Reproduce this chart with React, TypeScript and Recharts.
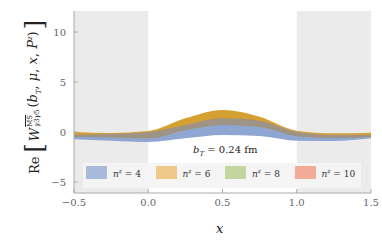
import React from "react";
import { ComposedChart, Area, XAxis, YAxis, ReferenceArea } from "recharts";

const xs = [-0.5, -0.25, 0, 0.25, 0.5, 0.75, 1.0, 1.25, 1.5];
const n4Low = [-0.73, -0.87, -1.0, -0.63, -0.3, -0.4, -0.87, -0.9, -0.63];
const n4High = [-0.27, -0.2, -0.03, 0.7, 1.37, 1.13, 0.0, -0.3, -0.3];
const n6Low = [-0.47, -0.53, -0.63, 0.2, 0.7, 0.53, -0.4, -0.6, -0.47];
const n6High = [0.0, -0.1, 0.1, 1.37, 2.2, 1.53, 0.13, -0.13, -0.07];
const n8Low = [-0.47, -0.53, -0.63, 0.2, 0.7, 0.53, -0.4, -0.6, -0.47];
const n8High = [-0.27, -0.2, -0.03, 0.7, 1.37, 1.13, 0.0, -0.3, -0.3];
const n10Low = [-0.42, -0.5, -0.58, 0.25, 0.75, 0.58, -0.35, -0.55, -0.42];
const n10High = [-0.25, -0.18, 0.0, 0.72, 1.38, 1.15, 0.05, -0.2, -0.25];

const xTicks = [-0.5, 0, 0.5, 1.0, 1.5];
const yTicks = [-5, 0, 5, 10];
const legendLabels = ["4", "6", "8", "10"];
const legendColors = ["#a9b9d9", "#efc98b", "#c3d69e", "#f1ab96"];

const data = xs.map((x, i) => ({
  x,
  n4: [n4Low[i], n4High[i]],
  n6: [n6Low[i], n6High[i]],
  n8: [n8Low[i], n8High[i]],
  n10: [n10Low[i], n10High[i]],
}));

const serif = "DejaVu Serif";
const fmt = (v: number) => (v < 0 ? "\u2212" + Math.abs(v).toFixed(1) : v.toFixed(1));
const fmtY = (v: number) => (v < 0 ? "\u2212" + Math.abs(v) : String(v));

export default function App() {
  return (
    <div style={{ position: "absolute", left: 0, top: 0, width: 382, height: 243, background: "#fff", fontFamily: serif }}>
      <ComposedChart width={382} height={243} data={data} margin={{ top: 11, right: 11, bottom: 20, left: 0 }}>
        <ReferenceArea x1={-0.5} x2={0} y1={-6.1} y2={12.1} fill="#ebebeb" fillOpacity={1} stroke="none" ifOverflow="hidden" />
        <ReferenceArea x1={1.0} x2={1.5} y1={-6.1} y2={12.1} fill="#ebebeb" fillOpacity={1} stroke="none" ifOverflow="hidden" />
        <XAxis
          dataKey="x"
          type="number"
          domain={[-0.5, 1.5]}
          ticks={xTicks}
          tickFormatter={fmt}
          tickSize={-4}
          tickMargin={10}
          height={30}
          stroke="#aaaaaa"
          tick={{ fill: "#666", fontSize: 10, fontFamily: serif }}
          allowDataOverflow
        />
        <XAxis
          xAxisId="top"
          orientation="top"
          dataKey="x"
          type="number"
          domain={[-0.5, 1.5]}
          ticks={xTicks}
          tickFormatter={() => ""}
          tickSize={-4}
          height={0}
          stroke="#aaaaaa"
        />
        <YAxis
          type="number"
          domain={[-6.1, 12.1]}
          ticks={yTicks}
          tickFormatter={fmtY}
          width={74}
          tickSize={-4}
          tickMargin={12}
          stroke="#aaaaaa"
          tick={{ fill: "#666", fontSize: 10, fontFamily: serif }}
          allowDataOverflow
        />
        <YAxis
          yAxisId="right"
          orientation="right"
          type="number"
          domain={[-6.1, 12.1]}
          ticks={yTicks}
          tickFormatter={() => ""}
          width={0}
          tickSize={-4}
          stroke="#aaaaaa"
        />
        <Area type="monotone" dataKey="n4" stroke="none" fill="#8fa6d2" fillOpacity={1} isAnimationActive={false} />
        <Area type="monotone" dataKey="n6" stroke="none" fill="#d4a032" fillOpacity={1} isAnimationActive={false} />
        <Area type="monotone" dataKey="n8" stroke="none" fill="#8c9288" fillOpacity={0.97} isAnimationActive={false} />
        <Area type="monotone" dataKey="n10" stroke="none" fill="#e39a85" fillOpacity={0.18} isAnimationActive={false} />
      </ComposedChart>

      <div style={{ position: "absolute", left: 193, top: 144, fontSize: 10, color: "#222", whiteSpace: "nowrap" }}>
        <i>b</i>
        <sub style={{ fontSize: 7 }}><i>T</i></sub> = 0.24 fm
      </div>

      <div
        style={{
          position: "absolute",
          left: 83,
          top: 163,
          width: 278,
          height: 25,
          background: "rgba(244,244,244,0.95)",
        }}
      >
        {legendLabels.map((l, i) => (
          <div key={l} style={{ position: "absolute", left: 3 + i * 69.5, top: 3, display: "flex", alignItems: "center" }}>
            <div style={{ width: 21, height: 13, background: legendColors[i] }} />
            <span style={{ marginLeft: 6, fontSize: 9, color: "#333", whiteSpace: "nowrap" }}>
              <i>n</i>
              <sup style={{ fontSize: 6 }}><i>z</i></sup> = {l}
            </span>
          </div>
        ))}
      </div>

      <div style={{ position: "absolute", left: 216, top: 221, fontSize: 13, fontStyle: "italic", color: "#222" }}>x</div>

      <div
        style={{
          position: "absolute",
          left: 34,
          top: 97,
          transform: "translate(-50%, -50%) rotate(-90deg)",
          whiteSpace: "nowrap",
          fontSize: 13,
          color: "#222",
          display: "flex",
          alignItems: "center",
        }}
      >
        <span>Re</span>
        <span style={{ fontSize: 24, marginLeft: 4, lineHeight: 1, fontWeight: 200 }}>[</span>
        <span style={{ marginLeft: 2 }}><i>W</i></span>
        <span style={{ display: "inline-flex", flexDirection: "column", fontSize: 7, lineHeight: 1, marginLeft: 1 }}>
          <span style={{ textDecoration: "overline" }}>MS</span>
          <span><i>γ</i>3<i>γ</i>5</span>
        </span>
        <span style={{ marginLeft: 2 }}>
          (<i>b</i><sub style={{ fontSize: 7 }}><i>T</i></sub>, <i>μ</i>, <i>x</i>, <i>P</i><sup style={{ fontSize: 7 }}><i>z</i></sup>)
        </span>
        <span style={{ fontSize: 24, marginLeft: 2, lineHeight: 1, fontWeight: 200 }}>]</span>
      </div>
    </div>
  );
}
